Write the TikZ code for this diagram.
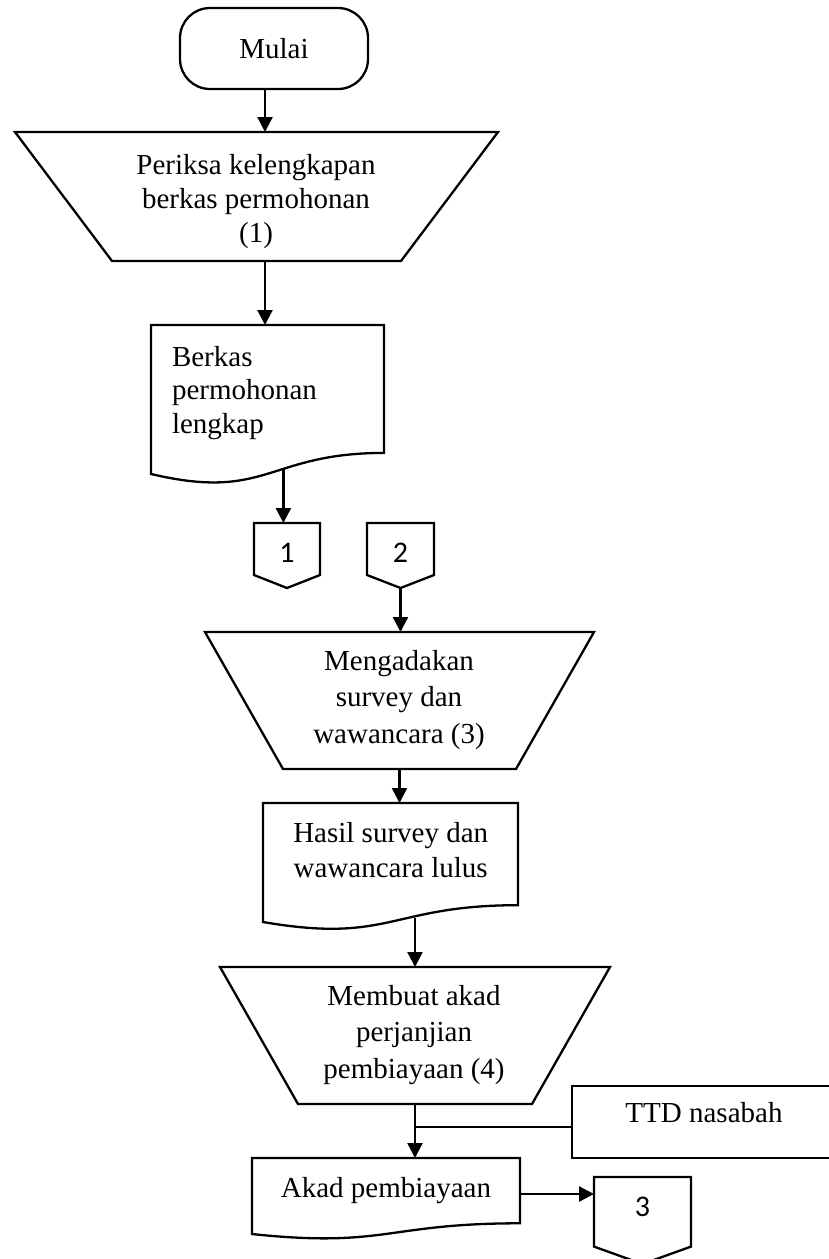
\documentclass[tikz,border=0pt]{standalone}
\usepackage{fontspec}
\setmainfont{Liberation Serif}
\newfontfamily\labelfont{Carlito}
\usetikzlibrary{arrows.meta,calc}

\tikzset{
  outline/.style={draw=black, line width=2.3pt, line join=miter},
  shapeframe/.style={inner sep=0pt, outer sep=0pt},
  flow/.style={draw=black, line width=2.3pt, -{Triangle[length=15pt,width=15pt]}},
  link/.style={draw=black, line width=2.3pt},
  lbl/.style={inner sep=0pt, outer sep=0pt, font=\fontsize{29}{35}\selectfont},
  num/.style={inner sep=0pt, outer sep=0pt, font=\labelfont\fontsize{30}{36}\selectfont},
}

% manual input (trapezium): frame node, bottom inset
\newcommand\DrawTrap[2]{%
  \draw[outline] (#1.north west) -- (#1.north east)
    -- ($(#1.south east)+(-#2,0)$) -- ($(#1.south west)+(#2,0)$) -- cycle;}
% document symbol with wavy bottom; leaves coordinate <name>-w on the wave
\newcommand\DrawDoc[1]{%
  \draw[outline] (#1.north west) -- (#1.north east)
    -- ($(#1.north east)!0.802!(#1.south east)$)
    .. controls ($(#1.north)!0.802!(#1.south)$) and ($(#1.north)!1.107!(#1.south)$)
    .. ($(#1.north west)!0.934!(#1.south west)$) coordinate[pos=0.41] (#1-w)
    -- cycle;}
% off-page connector
\newcommand\DrawOffpage[1]{%
  \draw[outline] (#1.north west) -- (#1.north east)
    -- ($(#1.north east)!0.8!(#1.south east)$) -- (#1.south)
    -- ($(#1.north west)!0.8!(#1.south west)$) -- cycle;}

\begin{document}
\begin{tikzpicture}[x=1pt, y=-1pt]
\path[use as bounding box, fill=white] (0,0) rectangle (829,1259);

% terminator
\node[outline, lbl, rounded corners=30pt, minimum width=188pt, minimum height=81pt] (start) at (274,48.5) {Mulai};

% step 1
\node[shapeframe, minimum width=483pt, minimum height=129pt] (t1) at (256.5,196.5) {};
\DrawTrap{t1}{97}
\node[lbl, anchor=north, align=center, font=\fontsize{29}{34}\selectfont] (t1-text) at (256,154)
  {Periksa kelengkapan\\berkas permohonan\\(1)};

\node[shapeframe, minimum width=233pt, minimum height=159.5pt] (d1) at (267.5,404.75) {};
\DrawDoc{d1}
\node[lbl, anchor=north west, align=left, font=\fontsize{29}{33.5}\selectfont] (d1-text) at (172,346)
  {Berkas\\permohonan\\lengkap};

% off-page connectors 1 and 2
\node[shapeframe, minimum width=66pt, minimum height=65pt] (c1) at (287,555.5) {};
\DrawOffpage{c1}
\node[num] (c1-text) at (287,553) {1};
\node[shapeframe, minimum width=67pt, minimum height=65pt] (c2) at (400.5,555.5) {};
\DrawOffpage{c2}
\node[num] (c2-text) at (400.5,553) {2};

% step 3
\node[shapeframe, minimum width=389pt, minimum height=137pt] (t2) at (399.5,700.5) {};
\DrawTrap{t2}{78}
\node[lbl, anchor=north, align=center, font=\fontsize{29}{36.5}\selectfont] (t2-text) at (399,650)
  {Mengadakan\\survey dan\\wawancara (3)};

\node[shapeframe, minimum width=255pt, minimum height=127.4pt] (d2) at (390.5,866.7) {};
\DrawDoc{d2}
\node[lbl, anchor=north, align=center, font=\fontsize{29}{35}\selectfont] (d2-text) at (390.7,822)
  {Hasil survey dan\\wawancara lulus};

% step 4
\node[shapeframe, minimum width=390pt, minimum height=137pt] (t3) at (415,1035.5) {};
\DrawTrap{t3}{78}
\node[lbl, anchor=north, align=center, font=\fontsize{29}{36.5}\selectfont] (t3-text) at (414,985)
  {Membuat akad\\perjanjian\\pembiayaan (4)};

\node[outline, shapeframe, minimum width=263pt, minimum height=72pt] (ttd) at (703.5,1122) {};
\node[lbl, anchor=base] (ttd-text) at (704,1122.5) {TTD nasabah};

\node[shapeframe, minimum width=268pt, minimum height=81.4pt] (akad) at (386,1198.7) {};
\DrawDoc{akad}
\node[lbl, anchor=base] (akad-text) at (386,1197) {Akad pembiayaan};

\node[shapeframe, minimum width=97pt, minimum height=87pt] (c3) at (642.5,1220.5) {};
\DrawOffpage{c3}
\node[num] (c3-text) at (642.5,1207) {3};

% connectors
\coordinate (s1) at ($(start.south)+(-9,0)$);
\draw[flow] (s1) -- (s1 |- t1.north);
\coordinate (s2) at ($(d1.north)+(-2.5,0)$);
\draw[flow] (s2 |- t1.south) -- (s2);
\draw[flow] (d1-w) -- (d1-w |- c1.north);
\draw[flow] (c2.south) -- (c2.south |- t2.north);
\draw[flow] (t2.south) -- (t2.south |- d2.north);
\draw[flow] (t3.north |- d2-w) -- (t3.north);
\draw[flow] (t3.south) -- (t3.south |- akad.north);
\coordinate (j) at ($(ttd.west)+(0,5)$);
\draw[link] (j) -- (j -| t3.south);
\coordinate (a3) at ($(akad.east)+(0,-4.7)$);
\draw[flow] (a3) -- (a3 -| c3.west);
\end{tikzpicture}
\end{document}
